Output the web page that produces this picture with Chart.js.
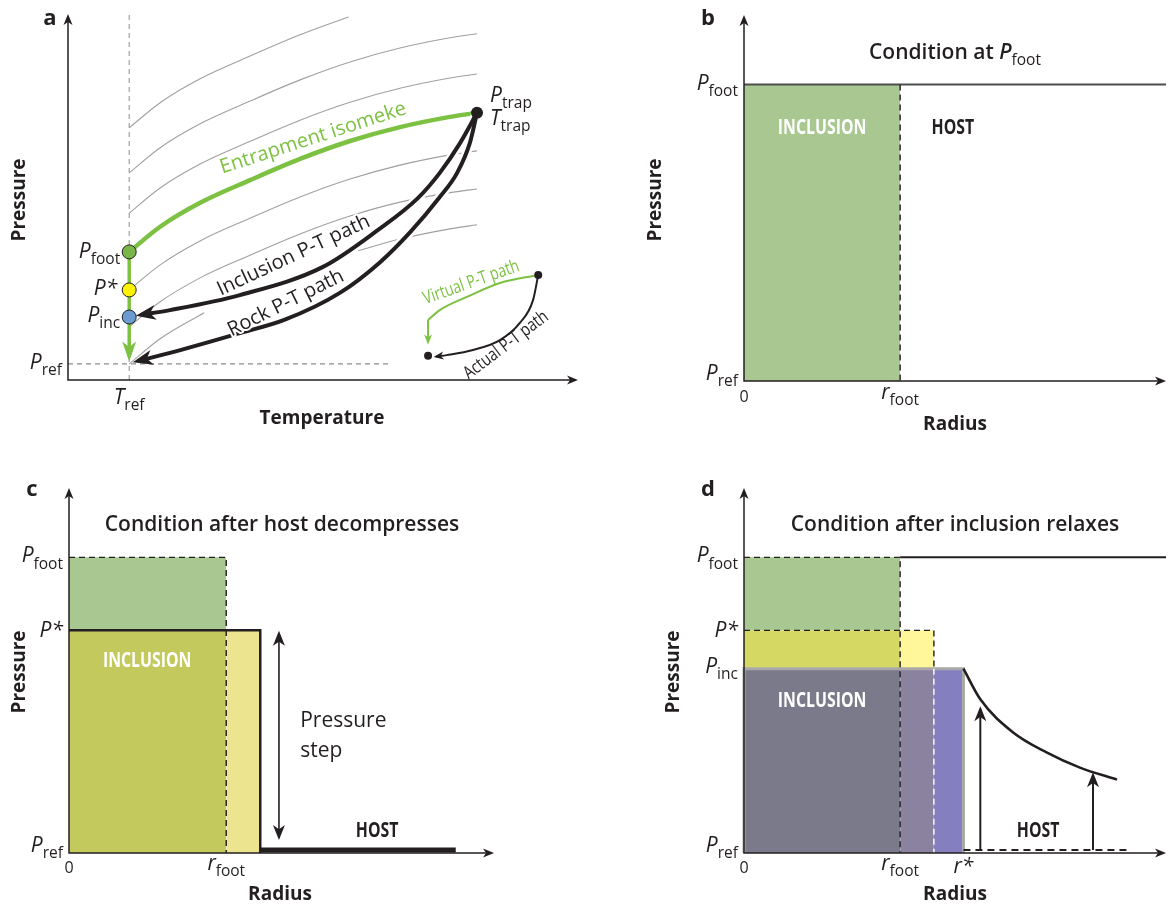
<!DOCTYPE html>
<html>
<head>
<meta charset="utf-8">
<title>Inclusion pressure schematic</title>
<script src="https://cdn.jsdelivr.net/npm/chart.js@4.4.0/dist/chart.umd.min.js"></script>
<style>
  body { margin: 0; background: #fff; }
  #wrap { position: relative; width: 1168px; height: 906px; }
  #wrap canvas { position: absolute; left: 0; top: 0; }
</style>
</head>
<body>
<div id="wrap">
  <canvas id="chartA" width="1168" height="906"></canvas>
  <canvas id="chartB" width="1168" height="906"></canvas>
  <canvas id="chartC" width="1168" height="906"></canvas>
  <canvas id="chartD" width="1168" height="906"></canvas>
</div>
<script>
const W = 1168, H = 906;
const INK = '#231f20';
const GREEN = '#7dc142';
const FONT = '"Open Sans", "Noto Sans", sans-serif';

// ---------- panel a : pressure vs temperature (arbitrary 0-100 units) ----------
const tRef = 12;
const pRefA = 4.4;
const pFootA = 35;
const pStarA = 24.6;
const pIncA = 17.2;
const trapPoint = [80.2, 73];
const entrapmentIsomeke = [[12, 35], [18, 41.8], [25.9, 48.4], [35.7, 54.6], [45.5, 60.4], [55.3, 65.3], [65.1, 69.1], [74.9, 71.9], [80.2, 73]];
const isomekes = [
  [[12, 68.9], [18, 75.7], [25.9, 82.3], [35.7, 88.5], [45.5, 94.3], [55, 99.2]],
  [[12, 56.6], [18, 63.4], [25.9, 70], [35.7, 76.2], [45.5, 82], [55.3, 86.9], [65.1, 90.7], [74.9, 93.5], [80.2, 94.6]],
  [[12, 45.6], [18, 52.4], [25.9, 59], [35.7, 65.2], [45.5, 71], [55.3, 75.9], [65.1, 79.7], [74.9, 82.5], [80.2, 83.6]],
  [[12, 24.6], [18, 31.4], [25.9, 38], [35.7, 44.2], [45.5, 50], [55.3, 54.9], [65.1, 58.7], [74.9, 61.5], [80.2, 62.6]],
  [[12, 14.5], [18, 21.3], [25.9, 27.9], [35.7, 34.1], [45.5, 39.9], [55.3, 44.8], [65.1, 48.6], [74.9, 51.2], [80.2, 52.2]],
  [[12, 4.4], [18, 11.2], [26.7, 18.4]],
  [[56.9, 35.3], [65.1, 38.5], [74.9, 41.3], [80.2, 42.4]]
];
const inclusionPath = [[80.2, 73], [76.9, 64.8], [72.9, 56.6], [68.6, 49.7], [60.8, 41], [50, 30.9], [33.7, 23.2], [20, 19.1], [14.3, 17.8]];
const rockPath = [[80.2, 73], [78.8, 64.8], [76.3, 56.6], [72.9, 50], [67.1, 40.4], [61.2, 32.2], [53.3, 23.8], [42.4, 16.4], [33.7, 12.8], [20, 7.4], [13.7, 5.2]];
const virtualPath = [[92.2, 28.7], [84.7, 26.5], [78.2, 22.7], [72.9, 19.1], [70.6, 16.4]];
const virtualDrop = [[70.6, 16.4], [70.6, 10.4]];
const actualPath = [[92.2, 28.7], [91.2, 21.9], [88.6, 15.6], [84.7, 10.9], [79.4, 8.2], [74.3, 6.8], [72.2, 6.4]];
const pathEnds = [[92.2, 28.7], [70.6, 6.6]];

// ---------- panels b-d : pressure vs radius (arbitrary 0-100 units) ----------
const pFoot = 81;
const pStar = 61;
const pInc = 50.5;
const rFoot = 37;
const rStep = 45;   // inclusion edge after the host decompresses
const rStar = 52;
const hostBar = [[45, 0.8], [91, 0.8]];
const stepArrow = [[49.4, 60.3], [49.4, 4.1]];
const hostProfile = [[52, 50.5], [56, 42.1], [63.7, 33.1], [71.8, 27.5], [79.6, 23.4], [88.4, 20.1]];
const hostBase = [[52, 0.8], [91, 0.8]];
const hostLift = [[[56, 0.8], [56, 39.5]], [[82.7, 0.8], [82.7, 21.4]]];

// ---------- helpers ----------
function path(points, color, width, extra) {
  return Object.assign({
    data: points.map(([x, y]) => ({ x, y })),
    borderColor: color, borderWidth: width, pointRadius: 0, fill: false, tension: 0, clip: false
  }, extra);
}
function curve(points, color, width, extra) {
  return path(points, color, width, Object.assign({ cubicInterpolationMode: 'monotone' }, extra));
}
function band(points, color, base) {
  return {
    data: points.map(([x, y]) => ({ x, y })),
    borderColor: 'rgba(0,0,0,0)', borderWidth: 0, backgroundColor: color,
    fill: { value: base }, pointRadius: 0, clip: false
  };
}
function dots(points, color, radius, border) {
  return {
    data: points.map(([x, y]) => ({ x, y })),
    showLine: false, pointRadius: radius, pointBackgroundColor: color,
    pointBorderColor: INK, pointBorderWidth: border === undefined ? 1 : border, clip: false
  };
}

function head(ctx, x, y, ux, uy, len, half) {
  const nx = -uy, ny = ux;
  const bx = x - ux * len, by = y - uy * len;
  ctx.beginPath();
  ctx.moveTo(x, y);
  ctx.lineTo(bx + nx * half, by + ny * half);
  ctx.lineTo(x - ux * len * 0.72, y - uy * len * 0.72);
  ctx.lineTo(bx - nx * half, by - ny * half);
  ctx.closePath();
  ctx.fill();
}

const headPlugin = {
  id: 'heads',
  afterDatasetsDraw(chart) {
    const ctx = chart.ctx;
    chart.data.datasets.forEach((ds, i) => {
      if (!ds.head) return;
      const pts = chart.getDatasetMeta(i).data;
      const ext = ds.borderWidth * 1.3;
      const tip = (a, b) => {
        const dx = b.x - a.x, dy = b.y - a.y, d = Math.hypot(dx, dy);
        head(ctx, b.x + dx / d * ext, b.y + dy / d * ext, dx / d, dy / d, ds.head[0], ds.head[1]);
      };
      ctx.save();
      ctx.fillStyle = ds.borderColor;
      tip(pts[pts.length - 2], pts[pts.length - 1]);
      if (ds.both) tip(pts[1], pts[0]);
      ctx.restore();
    });
  }
};

const axesPlugin = {
  id: 'axesArrows',
  afterDatasetsDraw(chart) {
    const { ctx, chartArea: a } = chart;
    ctx.save();
    ctx.strokeStyle = INK;
    ctx.fillStyle = INK;
    ctx.lineWidth = 1.5;
    ctx.beginPath();
    ctx.moveTo(a.left, a.bottom);
    ctx.lineTo(a.left, a.top + 5);
    ctx.moveTo(a.left - 0.75, a.bottom);
    ctx.lineTo(a.right - 5, a.bottom);
    ctx.stroke();
    head(ctx, a.left, a.top, 0, -1, 11, 4.5);
    head(ctx, a.right, a.bottom, 1, 0, 11, 4.5);
    ctx.restore();
  }
};

function fontFor(style, size, weight) {
  const sub = style.includes('s');
  const it = style.includes('i');
  return (it ? 'italic ' : '') + (sub ? 400 : weight) + ' ' + (sub ? size * 0.74 : size) + 'px ' + FONT;
}
function drawRich(ctx, t, x, y) {
  const size = t.size || 21, weight = t.weight || 400;
  ctx.save();
  ctx.translate(x, y);
  if (t.rot) ctx.rotate(t.rot * Math.PI / 180);
  if (t.sx) ctx.scale(t.sx, 1);
  let w = 0;
  const widths = t.parts.map(([s, st]) => {
    ctx.font = fontFor(st, size, weight);
    const m = ctx.measureText(s).width;
    w += m;
    return m;
  });
  let cx = t.align === 'left' ? 0 : t.align === 'right' ? -w : -w / 2;
  ctx.fillStyle = t.color || INK;
  ctx.strokeStyle = '#ffffff';
  ctx.lineWidth = 4;
  ctx.lineJoin = 'round';
  ctx.textAlign = 'left';
  ctx.textBaseline = 'alphabetic';
  t.parts.forEach(([s, st], i) => {
    ctx.font = fontFor(st, size, weight);
    const yy = st.includes('s') ? size * 0.3 : 0;
    if (t.halo) ctx.strokeText(s, cx, yy);
    ctx.fillText(s, cx, yy);
    cx += widths[i];
  });
  ctx.restore();
}
function textPlugin(texts) {
  return {
    id: 'texts',
    afterDraw(chart) {
      const { ctx, scales: { x, y } } = chart;
      texts.forEach(t => {
        const px = t.px ? t.px[0] : x.getPixelForValue(t.at[0]) + (t.dx || 0);
        const py = t.px ? t.px[1] : y.getPixelForValue(t.at[1]) + (t.dy || 0);
        drawRich(ctx, t, px, py);
      });
    }
  };
}

function makeChart(id, area, layers, texts) {
  const [l, t, r, b] = area;
  return new Chart(document.getElementById(id), {
    type: 'line',
    data: { datasets: layers.map((d, i) => Object.assign({ order: -i }, d)) },
    options: {
      responsive: false,
      animation: false,
      events: [],
      layout: { padding: { left: l, top: t, right: W - r, bottom: H - b } },
      scales: {
        x: { type: 'linear', min: 0, max: 100, display: false },
        y: { type: 'linear', min: 0, max: 100, display: false }
      },
      plugins: { legend: { display: false }, tooltip: { enabled: false } }
    },
    plugins: [headPlugin, axesPlugin, textPlugin(texts)]
  });
}

const cond = (s) => ({ size: 22, weight: 700, sx: 0.72, parts: [[s, '']] });

// ---------- panel a ----------
makeChart('chartA', [68, 14, 578, 380], [
  path([[tRef, 0], [tRef, 100]], '#8c8c8c', 1, { borderDash: [5, 4] }),
  path([[0, pRefA], [63, pRefA]], '#8c8c8c', 1.2, { borderDash: [5, 4] }),
  ...isomekes.map(c => curve(c, '#a0a0a0', 1.1)),
  curve(entrapmentIsomeke, GREEN, 4.5),
  path([[tRef, pFootA], [tRef, 6.3]], GREEN, 3.5, { head: [20, 7] }),
  curve(inclusionPath.slice(0, -1), '#ffffff', 9),
  curve(rockPath.slice(0, -1), '#ffffff', 9),
  curve(inclusionPath, INK, 4, { head: [20, 7.5] }),
  curve(rockPath, INK, 4, { head: [20, 7.5] }),
  curve(virtualPath, GREEN, 2),
  path(virtualDrop, GREEN, 2, { head: [10, 4] }),
  curve(actualPath, INK, 2, { head: [10, 4] }),
  dots([[tRef, pFootA]], '#79b548', 7),
  dots([[tRef, pStarA]], '#fff200', 7),
  dots([[tRef, pIncA]], '#6c9bd2', 7),
  dots([trapPoint], INK, 6, 0),
  dots(pathEnds, INK, 4, 0)
], [
  { px: [50, 25], size: 22, weight: 700, parts: [['a', '']] },
  { px: [25, 200], size: 19, weight: 700, rot: -90, parts: [['Pressure', '']] },
  { px: [322, 424], size: 19, weight: 700, parts: [['Temperature', '']] },
  { at: [tRef, pFootA], dx: -9, dy: 6, align: 'right', parts: [['P', 'i'], ['foot', 's']] },
  { at: [tRef, pStarA], dx: -12, dy: 5, align: 'right', parts: [['P*', 'i']] },
  { at: [tRef, pIncA], dx: -9, dy: 5, align: 'right', parts: [['P', 'i'], ['inc', 's']] },
  { at: [0, pRefA], dx: -6, dy: 5, align: 'right', parts: [['P', 'i'], ['ref', 's']] },
  { at: [tRef, 0], dy: 24, parts: [['T', 'i'], ['ref', 's']] },
  { at: trapPoint, dx: 13, dy: -11, align: 'left', parts: [['P', 'i'], ['trap', 's']] },
  { at: trapPoint, dx: 13, dy: 12, align: 'left', parts: [['T', 'i'], ['trap', 's']] },
  { at: [48.4, 64.6], rot: -18, size: 20, color: GREEN, halo: true, parts: [['Entrapment isomeke', '']] },
  { at: [44.7, 32.6], rot: -25, size: 20, halo: true, parts: [['Inclusion P-T path', '']] },
  { at: [43.2, 19.6], rot: -26.5, size: 20, halo: true, parts: [['Rock P-T path', '']] },
  { at: [79.4, 25.3], rot: -19.6, size: 18, sx: 0.78, color: GREEN, parts: [['Virtual P-T path', '']] },
  { at: [86.5, 8.4], rot: -37, size: 18, sx: 0.8, parts: [['Actual P-T path', '']] }
]);

// ---------- panel b ----------
makeChart('chartB', [744, 15, 1166, 381], [
  band([[0, pFoot], [rFoot, pFoot]], '#a9c791', 0),
  path([[0, pFoot], [100, pFoot]], '#4d4d4d', 2),
  path([[rFoot, pFoot], [rFoot, 0]], INK, 1.4, { borderDash: [6, 4] })
], [
  { px: [708, 25], size: 22, weight: 700, parts: [['b', '']] },
  { px: [661, 200], size: 19, weight: 700, rot: -90, parts: [['Pressure', '']] },
  { px: [955, 430], size: 19, weight: 700, parts: [['Radius', '']] },
  { px: [955, 59], size: 21, weight: 600, parts: [['Condition at ', ''], ['P', 'i'], ['foot', 's']] },
  Object.assign(cond('INCLUSION'), { at: [18.5, 67.5], color: '#ffffff' }),
  Object.assign(cond('HOST'), { at: [49.5, 67.5] }),
  { at: [0, pFoot], dx: -6, dy: 5, align: 'right', parts: [['P', 'i'], ['foot', 's']] },
  { at: [0, 0], dx: -6, dy: -1, align: 'right', parts: [['P', 'i'], ['ref', 's']] },
  { at: [0, 0], dy: 21, size: 16, parts: [['0', '']] },
  { at: [rFoot, 0], dy: 18, parts: [['r', 'i'], ['foot', 's']] }
]);

// ---------- panel c ----------
makeChart('chartC', [69, 488, 494, 853], [
  band([[0, pFoot], [rFoot, pFoot]], '#a9c791', pStar),
  band([[0, pStar], [rFoot, pStar]], '#c3c95c', 0),
  band([[rFoot, pStar], [rStep, pStar]], '#ece48f', 0),
  path([[0, pFoot], [rFoot, pFoot], [rFoot, 0]], INK, 1.4, { borderDash: [6, 4] }),
  path([[0, pStar], [rStep, pStar], [rStep, 0]], INK, 2.5),
  path(hostBar, INK, 5),
  path(stepArrow, INK, 1.6, { head: [15, 6], both: true })
], [
  { px: [32, 496], size: 22, weight: 700, parts: [['c', '']] },
  { px: [25, 672], size: 19, weight: 700, rot: -90, parts: [['Pressure', '']] },
  { px: [280, 900], size: 19, weight: 700, parts: [['Radius', '']] },
  { px: [282, 531], size: 21, weight: 600, parts: [['Condition after host decompresses', '']] },
  Object.assign(cond('INCLUSION'), { at: [18.4, 51], color: '#ffffff' }),
  Object.assign(cond('HOST'), { at: [72.5, 4.4] }),
  { at: [54.4, 34.5], align: 'left', size: 21, parts: [['Pressure', '']] },
  { at: [54.4, 26.3], align: 'left', size: 21, parts: [['step', '']] },
  { at: [0, pFoot], dx: -6, dy: 5, align: 'right', parts: [['P', 'i'], ['foot', 's']] },
  { at: [0, pStar], dx: -6, dy: 7, align: 'right', parts: [['P*', 'i']] },
  { at: [0, 0], dx: -6, dy: -1, align: 'right', parts: [['P', 'i'], ['ref', 's']] },
  { at: [0, 0], dy: 20, size: 16, parts: [['0', '']] },
  { at: [rFoot, 0], dy: 17, parts: [['r', 'i'], ['foot', 's']] }
]);

// ---------- panel d ----------
makeChart('chartD', [744, 488, 1166, 853], [
  band([[0, pFoot], [rFoot, pFoot]], '#a9c791', pStar),
  band([[0, pStar], [rFoot, pStar]], '#d5d862', pInc),
  band([[rFoot, pStar], [rStep, pStar]], '#fff79a', pInc),
  band([[0, pInc], [rFoot, pInc]], '#7a7a8a', 0),
  band([[rFoot, pInc], [rStep, pInc]], '#8b829f', 0),
  band([[rStep, pInc], [rStar, pInc]], '#8480bf', 0),
  path([[0, 0], [0, pInc], [rStar, pInc], [rStar, 0]], '#a9a9a9', 3),
  path([[0, pFoot], [rFoot, pFoot], [rFoot, 0]], INK, 1.4, { borderDash: [6, 4] }),
  path([[rFoot, pFoot], [100, pFoot]], INK, 2),
  path([[0, pStar], [rStep, pStar], [rStep, pInc]], INK, 1.4, { borderDash: [6, 4] }),
  path([[rStep, pInc], [rStep, 0]], '#ffffff', 1.4, { borderDash: [6, 4] }),
  path(hostBase, INK, 2, { borderDash: [7, 5] }),
  curve(hostProfile, INK, 2.6),
  ...hostLift.map(a => path(a, INK, 2, { head: [15, 6] }))
], [
  { px: [708, 496], size: 22, weight: 700, parts: [['d', '']] },
  { px: [679, 672], size: 19, weight: 700, rot: -90, parts: [['Pressure', '']] },
  { px: [955, 900], size: 19, weight: 700, parts: [['Radius', '']] },
  { px: [955, 531], size: 21, weight: 600, parts: [['Condition after inclusion relaxes', '']] },
  Object.assign(cond('INCLUSION'), { at: [18.5, 40], color: '#ffffff' }),
  Object.assign(cond('HOST'), { at: [69.7, 4.4] }),
  { at: [0, pFoot], dx: -6, dy: 5, align: 'right', parts: [['P', 'i'], ['foot', 's']] },
  { at: [0, pStar], dx: -6, dy: 7, align: 'right', parts: [['P*', 'i']] },
  { at: [0, pInc], dx: -6, dy: 4, align: 'right', parts: [['P', 'i'], ['inc', 's']] },
  { at: [0, 0], dx: -6, dy: -1, align: 'right', parts: [['P', 'i'], ['ref', 's']] },
  { at: [0, 0], dy: 20, size: 16, parts: [['0', '']] },
  { at: [rFoot, 0], dy: 17, parts: [['r', 'i'], ['foot', 's']] },
  { at: [rStar, 0], dy: 20, parts: [['r*', 'i']] }
]);
</script>
</body>
</html>
